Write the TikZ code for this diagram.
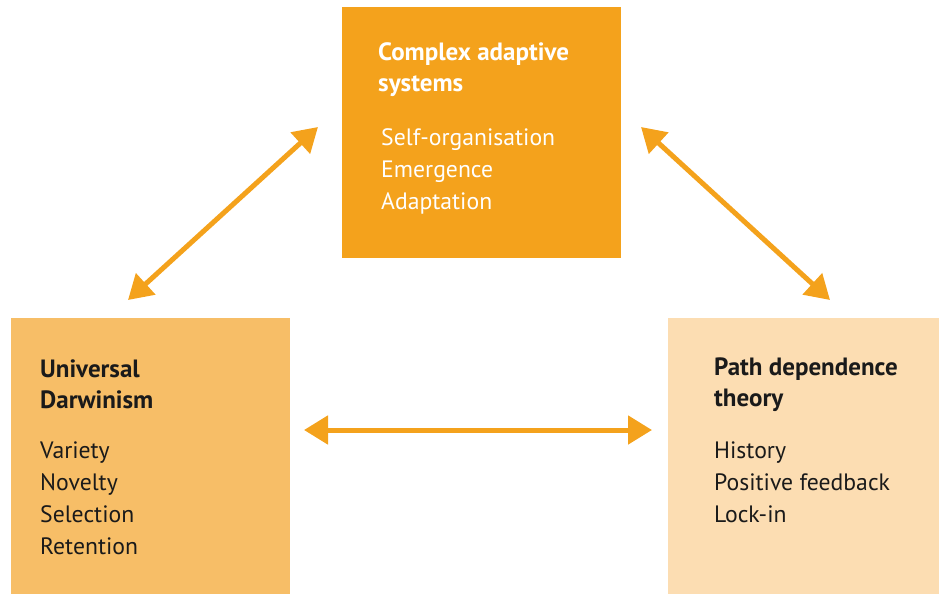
\documentclass[tikz,border=0pt]{standalone}
\usepackage{fontspec}
\setmainfont{PT Sans}
\usetikzlibrary{arrows.meta}
\definecolor{orangeA}{HTML}{F4A21C}
\definecolor{orangeB}{HTML}{F7BE67}
\definecolor{orangeC}{HTML}{FCDDB2}
\definecolor{darktext}{HTML}{1A1A1A}
\tikzset{
  box/.style={inner sep=0pt, outer sep=0pt},
  boxtext/.style={anchor=base west, inner sep=0pt, align=left,
    font=\fontsize{23.7}{32}\selectfont},
  titletext/.style={boxtext, font=\fontsize{25}{31}\selectfont\bfseries},
  link/.style={line width=5pt, draw=orangeA,
    {Triangle[length=24pt,width=28pt]}-{Triangle[length=24pt,width=28pt]}}
}
\begin{document}
\begin{tikzpicture}[x=1pt,y=-1pt]
\useasboundingbox (0,0) rectangle (939,594);
% boxes
\fill[orangeA] (342,7) rectangle (621,258);
\node[box] (cas) at (481.5,132.5) {};
\fill[orangeB] (11,318) rectangle (290,594);
\node[box] (ud) at (150.5,456) {};
\fill[orangeC] (668,318) rectangle (939,594);
\node[box] (pdt) at (803.5,456) {};
% texts (base anchor = last line's baseline)
\node[titletext, text=white] (castitle) at (378,91) {Complex adaptive\\systems};
\node[boxtext, text=white] (casbody) at (381,209) {Self-organisation\\Emergence\\Adaptation};
\node[titletext, text=darktext] (udtitle) at (40,408) {Universal\\Darwinism};
\node[boxtext, text=darktext] (udbody) at (40,554) {Variety\\Novelty\\Selection\\Retention};
\node[titletext, text=darktext] (pdttitle) at (714,406) {Path dependence\\theory};
\node[boxtext, text=darktext] (pdtbody) at (714,522) {History\\Positive feedback\\Lock-in};
% connector ends
\coordinate (a1) at (128,300);
\coordinate (a2) at (318,127);
\coordinate (b1) at (641,127);
\coordinate (b2) at (830,300);
\coordinate (c1) at (304,430);
\coordinate (c2) at (652,430);
\draw[link] (a1) -- (a2);
\draw[link] (b1) -- (b2);
\draw[link] (c1) -- (c2);
\end{tikzpicture}
\end{document}
